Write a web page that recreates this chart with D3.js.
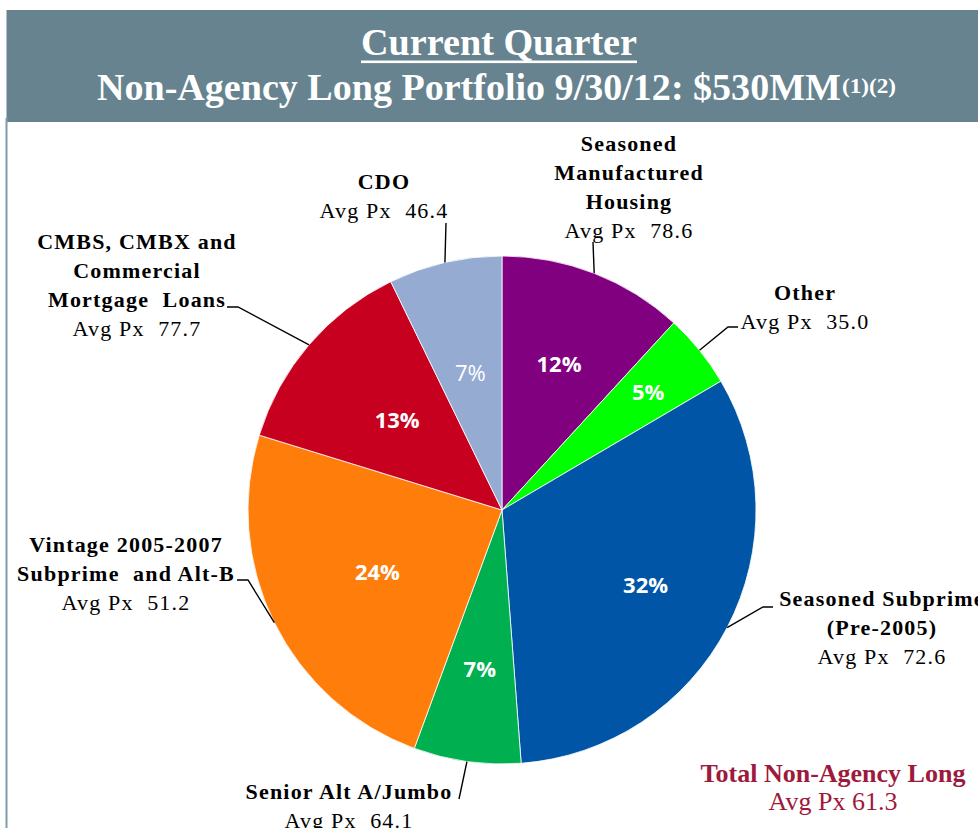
<!DOCTYPE html>
<html>
<head>
<meta charset="utf-8">
<script src="https://cdn.jsdelivr.net/npm/d3@7"></script>
<style>
  html, body { margin: 0; padding: 0; background: #ffffff; }
  svg { display: block; }
</style>
</head>
<body>
<svg id="chart" width="978" height="828"></svg>
<script>
// ---------------- DATA ----------------
const categories = [
  "Seasoned Manufactured Housing",
  "Other",
  "Seasoned Subprime (Pre-2005)",
  "Senior Alt A/Jumbo",
  "Vintage 2005-2007 Subprime and Alt-B",
  "CMBS, CMBX and Commercial Mortgage Loans",
  "CDO"
];
const shares = [11.8, 4.7, 32.2, 6.8, 24.1, 13.0, 7.2];
const pctLabels = ["12%", "5%", "32%", "7%", "24%", "13%", "7%"];
const avgPx = ["78.6", "35.0", "72.6", "64.1", "51.2", "77.7", "46.4"];
const nameLines = [
  ["Seasoned", "Manufactured", "Housing"],
  ["Other"],
  ["Seasoned Subprime", "(Pre-2005)"],
  ["Senior Alt A/Jumbo"],
  ["Vintage 2005-2007", "Subprime  and Alt-B"],
  ["CMBS, CMBX and", "Commercial", "Mortgage  Loans"],
  ["CDO"]
];
const titleLine1 = "Current Quarter";
const titleLine2 = "Non-Agency Long Portfolio 9/30/12: $530MM";
const titleSup = "(1)(2)";
const totalLabel = "Total Non-Agency Long";
const totalAvgPx = "61.3";

// ---------------- STYLE / LAYOUT ----------------
const palette = ["#800080", "#00ff00", "#0055a6", "#00b050", "#ff7d0a", "#c8001f", "#95abd1"];
const pctBold = [true, true, true, true, true, true, false];
const pctRadius = [157, 188, 162, 161, 139, 138, 141];
const labelLayout = [
  { x: 629, y: 151, elbow: [[593, 242]] },
  { x: 805, y: 300, elbow: [[728, 327], [738, 327]] },
  { x: 882, y: 606, elbow: [[763, 607], [773, 607]] },
  { x: 349, y: 799, elbow: [[459, 799]] },
  { x: 126, y: 552, elbow: [[248, 580], [237, 580]] },
  { x: 137, y: 249, elbow: [[238, 307], [227, 307]] },
  { x: 384, y: 189, elbow: [[446, 223]] }
];
const lineGap = 29;
const cx = 502, cy = 510, R = 254;
const serif = "'Liberation Serif', 'Times New Roman', serif";
const sans = "'Open Sans', 'Noto Sans', sans-serif";

const svg = d3.select("#chart");

// Header band
svg.append("rect").attr("x", 6.5).attr("y", 10).attr("width", 978 - 6.5).attr("height", 112)
  .attr("fill", "#66838f");
// Left panel border
svg.append("rect").attr("x", 5.5).attr("y", 118).attr("width", 2).attr("height", 828 - 118)
  .attr("fill", "#7f9cab");

// Title
svg.append("text").attr("x", 499).attr("y", 55).attr("text-anchor", "middle")
  .attr("font-family", serif).attr("font-weight", "bold").attr("font-size", 38)
  .attr("fill", "#ffffff").attr("textLength", 276).attr("lengthAdjust", "spacingAndGlyphs")
  .text(titleLine1);
svg.append("rect").attr("x", 361).attr("y", 60.5).attr("width", 276).attr("height", 2.6)
  .attr("fill", "#ffffff");
svg.append("text").attr("x", 97).attr("y", 100)
  .attr("font-family", serif).attr("font-weight", "bold").attr("fill", "#ffffff")
  .attr("font-size", 38).attr("textLength", 744).attr("lengthAdjust", "spacingAndGlyphs")
  .text(titleLine2);
svg.append("text").attr("x", 842).attr("y", 93)
  .attr("font-family", serif).attr("font-weight", "bold").attr("fill", "#ffffff")
  .attr("font-size", 20).attr("textLength", 54).attr("lengthAdjust", "spacingAndGlyphs")
  .text(titleSup);

// Pie
const pie = d3.pie().sort(null).value(d => d)(shares);
const arc = d3.arc().innerRadius(0).outerRadius(R);
const edgeArc = d3.arc().innerRadius(R).outerRadius(R);
const g = svg.append("g").attr("transform", `translate(${cx},${cy})`);

g.selectAll("path.slice").data(pie).join("path")
  .attr("class", "slice")
  .attr("d", arc)
  .attr("fill", (d, i) => palette[i])
  .attr("stroke", "#ffffff").attr("stroke-width", 0.8);

// Percent labels
g.selectAll("text.pct").data(pie).join("text")
  .attr("class", "pct")
  .attr("transform", (d, i) => {
    const c = d3.arc().innerRadius(pctRadius[i]).outerRadius(pctRadius[i]).centroid(d);
    return `translate(${c[0]},${c[1]})`;
  })
  .attr("text-anchor", "middle").attr("dy", "0.36em")
  .attr("font-family", sans).attr("font-size", 22)
  .attr("font-weight", (d, i) => pctBold[i] ? "bold" : "normal")
  .attr("fill", "#ffffff")
  .text((d, i) => pctLabels[i]);

// Leader lines
const line = d3.line();
pie.forEach((d, i) => {
  const s = edgeArc.centroid(d);
  const pts = [[s[0] + cx, s[1] + cy]].concat(labelLayout[i].elbow);
  svg.append("path").attr("d", line(pts)).attr("fill", "none")
    .attr("stroke", "#000000").attr("stroke-width", 1.4);
});

// Outer labels
categories.forEach((c, i) => {
  const L = labelLayout[i];
  const txt = svg.append("text").attr("text-anchor", "middle")
    .attr("font-family", serif).attr("fill", "#000000").attr("font-size", 22)
    .style("letter-spacing", "1.2px");
  nameLines[i].forEach((ln, k) => {
    txt.append("tspan").attr("x", L.x).attr("y", L.y + k * lineGap)
      .attr("font-weight", "bold").style("white-space", "pre").text(ln);
  });
  txt.append("tspan").attr("x", L.x).attr("y", L.y + nameLines[i].length * lineGap)
    .attr("font-weight", "normal").style("white-space", "pre").text("Avg Px  " + avgPx[i]);
});

// Total label
const tt = svg.append("text").attr("text-anchor", "middle")
  .attr("font-family", serif).attr("fill", "#9e1a3c").attr("font-size", 26);
tt.append("tspan").attr("x", 833).attr("y", 782).attr("font-weight", "bold").text(totalLabel);
tt.append("tspan").attr("x", 833).attr("y", 810).attr("font-weight", "normal").text("Avg Px " + totalAvgPx);
</script>
</body>
</html>
